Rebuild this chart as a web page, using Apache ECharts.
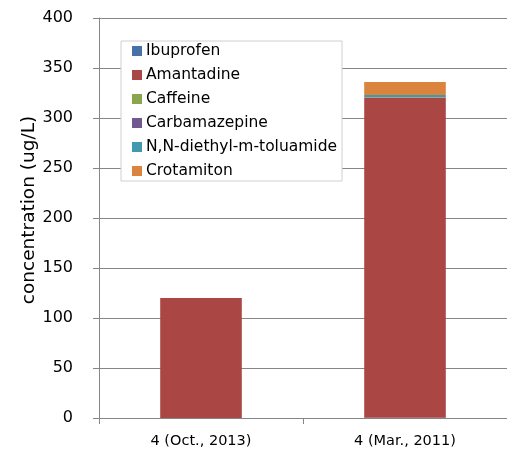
<!DOCTYPE html>
<html>
<head>
<meta charset="utf-8">
<script src="https://cdn.jsdelivr.net/npm/echarts@6/dist/echarts.min.js"></script>
<style>
  html, body { margin: 0; padding: 0; background: #fff; }
  #chart { width: 507px; height: 452px; }
</style>
</head>
<body>
<div id="chart"></div>
<script>
// samples
const categories = ['4 (Oct., 2013)', '4 (Mar., 2011)'];

// concentrations (ug/L), one array per compound
const ibuprofen = [0, 0.3];
const amantadine = [120, 320];
const caffeine = [0, 0.4];
const carbamazepine = [0, 0.4];
const deet = [0, 1.8];
const crotamiton = [0, 13];

const yTicks = [0, 50, 100, 150, 200, 250, 300, 350, 400];

const seriesDefs = [
  ['Ibuprofen', ibuprofen, '#4572A7'],
  ['Amantadine', amantadine, '#AA4643'],
  ['Caffeine', caffeine, '#89A54E'],
  ['Carbamazepine', carbamazepine, '#71588F'],
  ['N,N-diethyl-m-toluamide', deet, '#4198AF'],
  ['Crotamiton', crotamiton, '#DB843D']
];

const font = 'DejaVu Sans';
const chart = echarts.init(document.getElementById('chart'));

chart.setOption({
  animation: false,
  grid: { left: 99, right: 0, top: 18, bottom: 34 },
  legend: {
    orient: 'vertical',
    left: 121,
    top: 41,
    padding: [2, 5, 2, 11],
    itemWidth: 10,
    itemHeight: 10,
    itemGap: 8,
    backgroundColor: '#fff',
    borderColor: '#d0d0d0',
    borderWidth: 1,
    icon: 'rect',
    textStyle: { fontFamily: font, fontSize: 15.5, color: '#000', lineHeight: 16, padding: [0, 0, 0, -1] },
    data: seriesDefs.map(d => d[0])
  },
  xAxis: {
    type: 'category',
    data: categories,
    axisLine: { lineStyle: { color: '#868686' } },
    axisTick: { show: true, length: 6, lineStyle: { color: '#868686' } },
    axisLabel: { fontFamily: font, fontSize: 14.5, color: '#000', margin: 16 }
  },
  yAxis: {
    type: 'value',
    min: yTicks[0],
    max: yTicks[yTicks.length - 1],
    interval: 50,
    name: 'concentration (ug/L)',
    nameLocation: 'middle',
    nameGap: 60,
    nameMoveOverlap: false,
    nameTextStyle: { fontFamily: font, fontSize: 18.5, color: '#000', padding: [0, 0, 0, 16] },
    axisLine: { show: true, lineStyle: { color: '#868686' } },
    axisTick: { show: true, length: 6, lineStyle: { color: '#868686' } },
    axisLabel: { fontFamily: font, fontSize: 16, color: '#000', margin: 26 },
    splitLine: { lineStyle: { color: '#868686' } }
  },
  series: seriesDefs.map(([name, data, color]) => ({
    name,
    type: 'bar',
    stack: 'total',
    data,
    barWidth: '40%',
    itemStyle: { color }
  }))
});
</script>
</body>
</html>
